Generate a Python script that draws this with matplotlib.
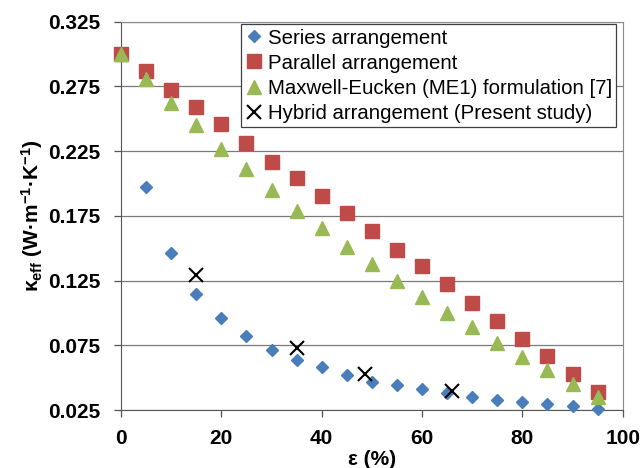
import matplotlib
matplotlib.use('Agg')
import matplotlib.pyplot as plt

plt.rcParams['font.family'] = ['Liberation Sans', 'DejaVu Sans']
plt.rcParams['mathtext.fontset'] = 'custom'
plt.rcParams['mathtext.rm'] = 'Liberation Sans:bold'
plt.rcParams['mathtext.it'] = 'Liberation Sans:bold'
plt.rcParams['mathtext.bf'] = 'Liberation Sans:bold'

# porosity (%)
eps = [0, 5, 10, 15, 20, 25, 30, 35, 40, 45, 50, 55, 60, 65, 70, 75, 80, 85, 90, 95]

series_k = [None, 0.197, 0.146, 0.115, 0.096, 0.082, 0.071, 0.064, 0.058, 0.052,
            0.047, 0.044, 0.041, 0.038, 0.035, 0.033, 0.031, 0.030, 0.028, 0.026]
parallel_k = [0.300, 0.287, 0.272, 0.259, 0.246, 0.231, 0.217, 0.204, 0.190, 0.177,
              0.163, 0.149, 0.136, 0.122, 0.108, 0.094, 0.080, 0.067, 0.053, 0.039]
maxwell_k = [0.300, 0.281, 0.262, 0.245, 0.227, 0.211, 0.195, 0.179, 0.166, 0.151,
             0.138, 0.125, 0.112, 0.100, 0.089, 0.077, 0.066, 0.056, 0.045, 0.035]

hybrid_eps = [15, 35, 48.6, 66]
hybrid_k = [0.129, 0.073, 0.053, 0.040]

fig = plt.figure(figsize=(6.41, 4.68), dpi=100)
ax = fig.add_axes([0.1888, 0.1239, 0.7826, 0.8297])

ser_x = [e for e, k in zip(eps, series_k) if k is not None]
ser_y = [k for k in series_k if k is not None]

ax.plot(ser_x, ser_y, 'D', color='#4A7EBB', markersize=6.5, label='Series arrangement',
        zorder=3, clip_on=False)
ax.plot(eps, parallel_k, 's', color='#BE4B48', markersize=10, label='Parallel arrangement',
        zorder=3, clip_on=False)
ax.plot(eps, maxwell_k, '^', color='#98B954', markersize=10.5,
        label='Maxwell-Eucken (ME1) formulation [7]', zorder=3, clip_on=False)
ax.plot(hybrid_eps, hybrid_k, 'x', color='black', markersize=9.5, markeredgewidth=1.5,
        label='Hybrid arrangement (Present study)', zorder=4, clip_on=False)

ax.set_xlim(0, 100)
ax.set_ylim(0.025, 0.325)
ax.set_xticks([0, 20, 40, 60, 80, 100])
ax.set_yticks([0.025, 0.075, 0.125, 0.175, 0.225, 0.275, 0.325])
ax.set_yticklabels(['0.025', '0.075', '0.125', '0.175', '0.225', '0.275', '0.325'])
ax.grid(axis='y', color='#7a7a7a', linewidth=0.9)
ax.set_axisbelow(True)
ax.tick_params(direction='out', length=5, width=0.9, color='#555555', labelsize=15)
ax.tick_params(axis='y', pad=10)
ax.tick_params(axis='x', pad=9)
for lbl in ax.get_xticklabels() + ax.get_yticklabels():
    lbl.set_fontweight('bold')
for s in ['left', 'bottom']:
    ax.spines[s].set_color('#555555')
for s in ['top', 'right']:
    ax.spines[s].set_color('#8a8a8a')

ax.set_ylabel(r'$\kappa_{eff}$ (W·m$^{-1}$·K$^{-1}$)', fontsize=15, fontweight='bold', labelpad=2)
ax.set_xlabel('ε (%)', fontsize=15, fontweight='bold', labelpad=1)

leg = ax.legend(loc='upper right', bbox_to_anchor=(0.987, 0.993), fontsize=14.7,
                frameon=True, fancybox=False, edgecolor='#404040', framealpha=1,
                handlelength=0.8, handletextpad=0.3, borderpad=0.2, labelspacing=0.3,
                borderaxespad=0)
leg.get_frame().set_linewidth(0.9)

fig.savefig('out.png', dpi=100)
